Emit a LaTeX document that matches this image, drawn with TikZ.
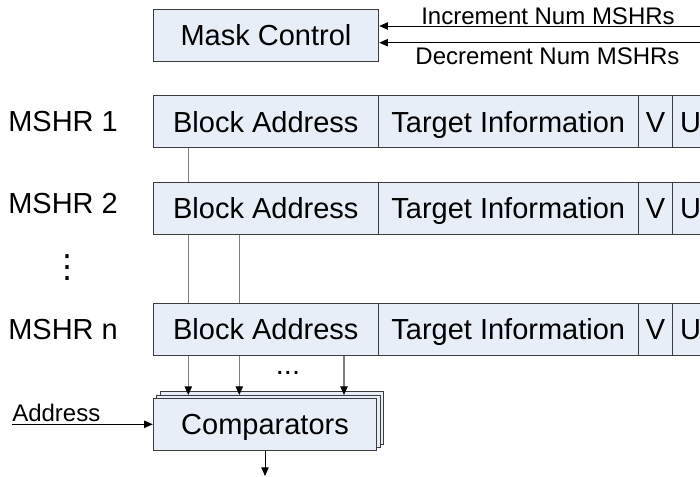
\documentclass[tikz,border=0pt]{standalone}
\usepackage{fontspec}
\setmainfont{Liberation Sans}
\newfontfamily\symfont{DejaVu Sans}
\usetikzlibrary{arrows.meta}
\definecolor{cellfill}{RGB}{232,238,247}
\definecolor{cellline}{RGB}{60,60,60}
\definecolor{wiregray}{RGB}{128,128,128}
\def\upx{0.75pt}
\newcommand\bgfont{\fontsize{21.75pt}{26pt}\selectfont}
\newcommand\smfont{\fontsize{18pt}{21pt}\selectfont}
\tikzset{
  cell/.style={draw=cellline, fill=cellfill, line width=0.75pt, inner sep=0pt,
    font=\bgfont, minimum height=51.7*\upx, text height=15.6pt, text depth=0pt},
  lab/.style={inner sep=0pt, font=\bgfont},
  small/.style={inner sep=0pt, font=\smfont},
  wire/.style={draw=wiregray, line width=0.9pt},
  arr/.style={line width=0.75pt, -{Triangle[length=6.5pt,width=5.5pt]}},
  garr/.style={draw=wiregray, line width=0.9pt, -{Triangle[length=6.5pt,width=5.5pt,color=black]}},
  vdotstyle/.style={inner sep=0pt, font=\symfont\fontsize{24pt}{28pt}\selectfont},
}
\begin{document}
\begin{tikzpicture}[x=0.75pt,y=-0.75pt]
\clip (0,0) rectangle (700,476);
% mask control
\node[cell, minimum width=225.4*\upx] (mask) at (266,35.2) {Mask Control};
\coordinate (incR) at (700,26);
\coordinate (decR) at (700,42.7);
\draw[arr] (incR) -- (incR -| mask.east);
\draw[arr] (decR) -- (decR -| mask.east);
\node[small, anchor=base] (inclab) at (548,24) {Increment Num MSHRs};
\node[small, anchor=base] (declab) at (547.5,64) {Decrement Num MSHRs};
% MSHR rows
\foreach \r/\y in {1/121.6, 2/208.2, n/329.2} {
  \node[cell, minimum width=225*\upx] (ba\r) at (265.8,\y) {Block Address};
  \node[cell, minimum width=260*\upx] (ti\r) at (508.3,\y) {Target Information};
  \node[cell, minimum width=34.4*\upx] (v\r) at (655.5,\y) {V};
  \node[cell, minimum width=35.6*\upx] (u\r) at (690.5,\y) {U};
}
\node[lab, anchor=base west] (m1) at (8,131.7) {MSHR 1};
\node[lab, anchor=base west] (m2) at (8,213.5) {MSHR 2};
\node[lab, anchor=base west] (mn) at (8,339.3) {MSHR n};
\node[vdotstyle] (vd) at (67.7,268) {⋮};
% comparators
\node[cell, minimum width=223.4*\upx, minimum height=52.4*\upx] (comp3) at (271.7,417.8) {};
\node[cell, minimum width=223.4*\upx, minimum height=52.4*\upx] (comp2) at (268.3,421.2) {};
\node[cell, minimum width=223.4*\upx, minimum height=52.4*\upx] (comp) at (265,424.5) {Comparators};
% wires
\coordinate (w1) at (188.3,395);
\coordinate (w2) at (239.3,395);
\coordinate (w3) at (344,395);
\draw[wire] (ba1.south -| w1) -- (ba2.north -| w1);
\draw[wire] (ba2.south -| w1) -- (ban.north -| w1);
\draw[wire] (ba2.south -| w2) -- (ban.north -| w2);
\draw[garr] (ban.south -| w1) -- (w1);
\draw[garr] (ban.south -| w2) -- (w2);
\draw[garr] (ban.south -| w3) -- (w3);
\node[lab, anchor=base] (dots) at (288,374.5) {...};
% address in / output
\coordinate (addrL) at (11.7,424.3);
\draw[arr] (addrL) -- (addrL -| comp.west);
\node[small, anchor=base west] (addrlab) at (12,421.7) {Address};
\coordinate (out) at (265,476);
\draw[arr] (comp.south) -- (out);
\end{tikzpicture}
\end{document}
